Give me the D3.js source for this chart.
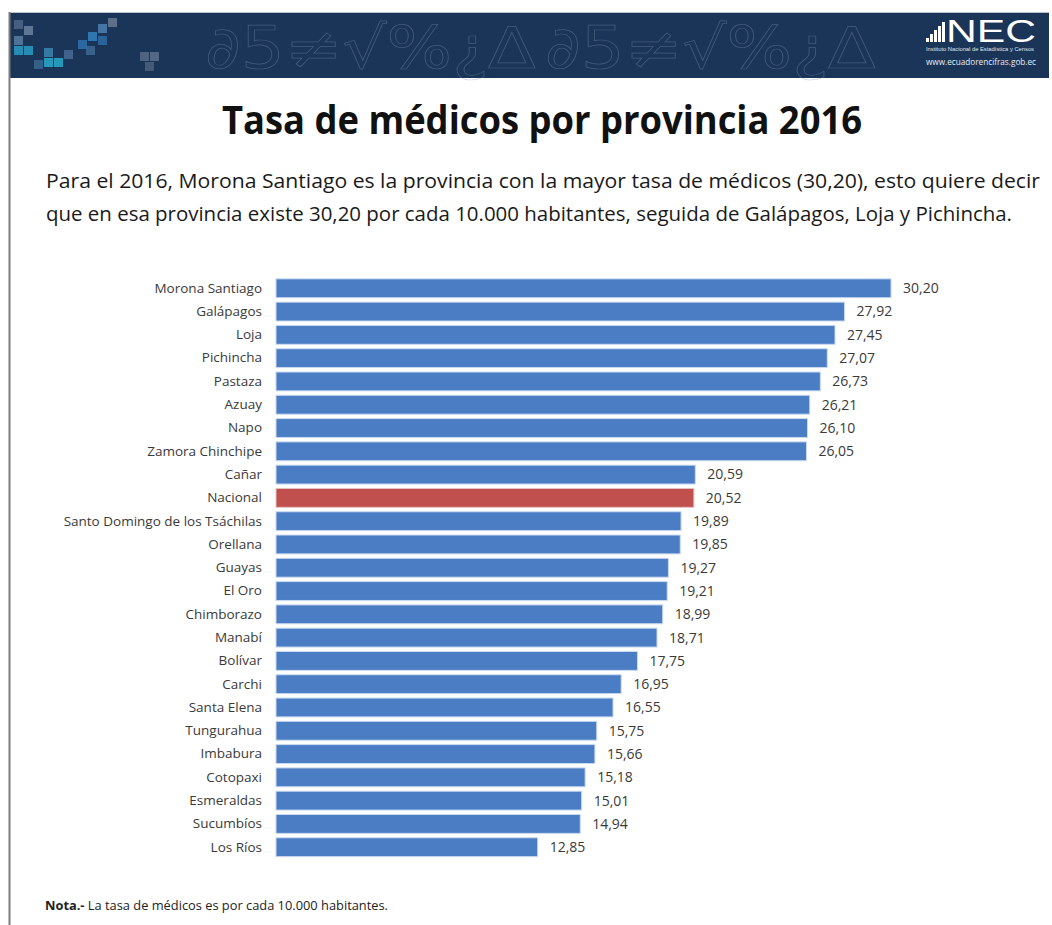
<!DOCTYPE html>
<html>
<head>
<meta charset="utf-8">
<script src="https://cdn.jsdelivr.net/npm/d3@7"></script>
<style>
  html, body { margin: 0; padding: 0; background: #ffffff; }
  svg { display: block; }
</style>
</head>
<body>
<svg id="chart" width="1052" height="925"></svg>
<script>
// Provinces, top to bottom
const provinces = [
  "Morona Santiago", "Galápagos", "Loja", "Pichincha", "Pastaza", "Azuay", "Napo",
  "Zamora Chinchipe", "Cañar", "Nacional", "Santo Domingo de los Tsáchilas", "Orellana",
  "Guayas", "El Oro", "Chimborazo", "Manabí", "Bolívar", "Carchi", "Santa Elena",
  "Tungurahua", "Imbabura", "Cotopaxi", "Esmeraldas", "Sucumbíos", "Los Ríos"
];
// Doctors per 10,000 inhabitants
const rates = [
  30.20, 27.92, 27.45, 27.07, 26.73, 26.21, 26.10,
  26.05, 20.59, 20.52, 19.89, 19.85,
  19.27, 19.21, 18.99, 18.71, 17.75, 16.95, 16.55,
  15.75, 15.66, 15.18, 15.01, 14.94, 12.85
];
const highlighted = ["Nacional"];

const titleText = "Tasa de médicos por provincia 2016";
const introLines = [
  "Para el 2016, Morona Santiago es la provincia con la mayor tasa de médicos (30,20), esto quiere decir",
  "que en esa provincia existe 30,20 por cada 10.000 habitantes, seguida de Galápagos, Loja y Pichincha."
];
const noteBold = "Nota.-";
const noteText = " La tasa de médicos es  por cada 10.000 habitantes.";

const FONT = "'Liberation Sans Narrow', 'Arial Narrow', 'Open Sans', sans-serif";
const svg = d3.select("#chart");

// ---------- header banner ----------
const banner = svg.append("g");
banner.append("rect").attr("x", 9).attr("y", 12).attr("width", 1040).attr("height", 66)
  .attr("fill", "#1b3559");
banner.append("line").attr("x1", 9).attr("x2", 1049).attr("y1", 12.5).attr("y2", 12.5)
  .attr("stroke", "#b9c2cc").attr("stroke-width", 1);

// pixel mosaic on the left of the banner
const mosaic = [
  [14, 46, "#2aa3c9"], [24, 46, "#2aa3c9"], [14, 36, "#5c7fa6"], [24, 26, "#6f86a3"],
  [44, 58, "#27b3d3"], [54, 58, "#27b3d3"], [44, 48, "#3d8bb8"], [64, 50, "#4a6f9a"],
  [78, 40, "#2f76b4"], [88, 32, "#3486c4"], [98, 24, "#4f86b8"], [98, 36, "#2f6ea9"],
  [108, 18, "#6d7f96"], [86, 46, "#3f6d99"], [14, 20, "#53698a"], [34, 60, "#3b6a95"],
  [140, 52, "#5b6f88"], [150, 52, "#627690"], [145, 62, "#4e6480"]
];
banner.selectAll("rect.px").data(mosaic).join("rect")
  .attr("class", "px")
  .attr("x", d => d[0]).attr("y", d => d[1])
  .attr("width", 9).attr("height", 9)
  .attr("fill", d => d[2]).attr("opacity", 0.8);

// faint outlined glyph ornament
const ornaments = [["∂5≠√%¿∆", 205], ["∂5≠√%¿∆", 545]];
banner.selectAll("text.orn").data(ornaments).join("text")
  .attr("class", "orn")
  .attr("x", d => d[1]).attr("y", 68)
  .attr("font-family", "DejaVu Sans, sans-serif")
  .attr("font-size", 58)
  .attr("fill", "none")
  .attr("stroke", "#7f93ad")
  .attr("stroke-width", 0.7)
  .attr("opacity", 0.4)
  .attr("textLength", 330)
  .attr("lengthAdjust", "spacingAndGlyphs")
  .text(d => d[0]);

// INEC logo
const logo = banner.append("g");
const steps = [0, 1, 2, 3, 4];
logo.selectAll("rect.step").data(steps).join("rect")
  .attr("class", "step")
  .attr("x", d => 926 + d * 4).attr("width", 3)
  .attr("y", d => 42 - (4 + d * 4)).attr("height", d => 4 + d * 4)
  .attr("fill", "#ffffff");
logo.append("text")
  .attr("x", 946).attr("y", 42)
  .attr("font-family", "'Liberation Sans', Arial, sans-serif")
  .attr("font-size", 31).attr("fill", "#ffffff")
  .attr("textLength", 90).attr("lengthAdjust", "spacingAndGlyphs")
  .text("NEC");
logo.append("text")
  .attr("x", 926).attr("y", 51)
  .attr("font-family", "'Liberation Sans', Arial, sans-serif")
  .attr("font-size", 4.5).attr("fill", "#dfe6ee")
  .attr("textLength", 108).attr("lengthAdjust", "spacingAndGlyphs")
  .text("Instituto Nacional de Estadística y Censos");
logo.append("text")
  .attr("x", 926).attr("y", 65)
  .attr("font-family", FONT)
  .attr("font-size", 9).attr("fill", "#e6ebf1")
  .attr("textLength", 110).attr("lengthAdjust", "spacingAndGlyphs")
  .text("www.ecuadorencifras.gob.ec");

// left page rule
svg.append("line").attr("x1", 9.5).attr("x2", 9.5).attr("y1", 12).attr("y2", 925)
  .attr("stroke", "#7d7d7d").attr("stroke-width", 2);

// ---------- title & intro ----------
svg.append("text")
  .attr("x", 542).attr("y", 134)
  .attr("text-anchor", "middle")
  .attr("font-family", FONT).attr("font-weight", "bold")
  .attr("font-size", 40).attr("fill", "#111111")
  .attr("textLength", 640).attr("lengthAdjust", "spacingAndGlyphs")
  .text(titleText);

const introWidths = [994, 966];
svg.selectAll("text.intro").data(introLines).join("text")
  .attr("class", "intro")
  .attr("x", 46).attr("y", (d, i) => 188 + i * 33)
  .attr("font-family", FONT)
  .attr("font-size", 20).attr("fill", "#1a1a1a")
  .attr("textLength", (d, i) => introWidths[i]).attr("lengthAdjust", "spacingAndGlyphs")
  .text(d => d);

// ---------- bar chart ----------
const data = provinces.map((p, i) => ({ name: p, value: rates[i] }));

const x = d3.scaleLinear().domain([0, 30.2]).range([276, 891]);
const y = d3.scaleBand().domain(provinces).range([277, 858.5]).paddingInner(0.19).paddingOuter(0.08);

const chart = svg.append("g");

chart.selectAll("rect.bar").data(data).join("rect")
  .attr("class", "bar")
  .attr("x", x(0))
  .attr("y", d => y(d.name))
  .attr("width", d => x(d.value) - x(0))
  .attr("height", y.bandwidth())
  .attr("fill", d => highlighted.includes(d.name) ? "#c0504d" : "#4a7dc4")
  .attr("stroke", d => highlighted.includes(d.name) ? "#e7c3c2" : "#c9daf0")
  .attr("stroke-width", 1);

// category axis (labels only)
const yAxis = d3.axisLeft(y).tickSize(0).tickPadding(14);
const axisG = chart.append("g").attr("transform", `translate(${x(0)},0)`).call(yAxis);
axisG.select(".domain").remove();
axisG.selectAll("text")
  .attr("font-family", FONT)
  .attr("font-size", 13.5)
  .attr("fill", "#3a3a3a");

// value labels with comma decimal separator
const fmt = v => d3.format(".2f")(v).replace(".", ",");
chart.selectAll("text.val").data(data).join("text")
  .attr("class", "val")
  .attr("x", d => x(d.value) + 12)
  .attr("y", d => y(d.name) + y.bandwidth() / 2)
  .attr("dy", "0.35em")
  .attr("font-family", FONT)
  .attr("font-size", 14)
  .attr("fill", "#3a3a3a")
  .text(d => fmt(d.value));

// ---------- note ----------
const note = svg.append("text")
  .attr("x", 45).attr("y", 910)
  .attr("font-family", FONT)
  .attr("font-size", 12).attr("fill", "#222222")
  .attr("textLength", 343).attr("lengthAdjust", "spacingAndGlyphs");
note.append("tspan").attr("font-weight", "bold").text(noteBold);
note.append("tspan").text(noteText);
</script>
</body>
</html>
